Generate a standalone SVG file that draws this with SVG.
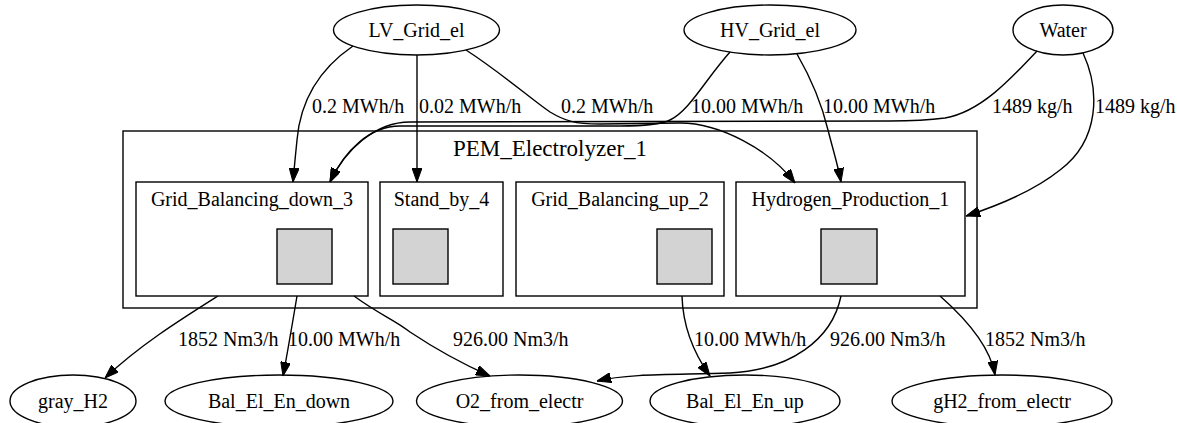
<svg xmlns="http://www.w3.org/2000/svg" width="1177" height="423" viewBox="0 0 1177 423">
<style>
text{font-family:"Liberation Serif","Times New Roman",Times,serif;font-size:20px;fill:#000}
.n{text-anchor:middle}
.sh{fill:#fff;stroke:#000;stroke-width:1.4}
.sq{fill:#d3d3d3;stroke:#000;stroke-width:1.4}
.e{fill:none;stroke:#000;stroke-width:1.4;marker-end:url(#ah)}
.ct{font-size:23px;text-anchor:middle}
</style>
<defs>
<marker id="ah" viewBox="0 0 14 10" refX="14" refY="5" markerUnits="userSpaceOnUse" markerWidth="14" markerHeight="10" orient="auto">
<path d="M0,0 L14,5 L0,10 z" fill="#000" stroke="#000" stroke-width="1"/>
</marker>
</defs>
<rect width="1177" height="423" fill="#fff"/>
<g id="cluster_PEM_Electrolyzer_1">
<rect class="sh" x="123" y="131" width="854" height="177"/>
<text class="ct" x="550" y="156">PEM_Electrolyzer_1</text>
</g>
<g id="node_Grid_Balancing_down_3">
<rect class="sh" x="136" y="182" width="232" height="114"/>
<text class="n" x="252" y="206">Grid_Balancing_down_3</text>
<rect class="sq" x="277" y="229" width="55" height="55"/>
</g>
<g id="node_Stand_by_4">
<rect class="sh" x="380" y="182" width="123" height="114"/>
<text class="n" x="441.5" y="206">Stand_by_4</text>
<rect class="sq" x="393" y="229" width="55" height="55"/>
</g>
<g id="node_Grid_Balancing_up_2">
<rect class="sh" x="516" y="182" width="208" height="114"/>
<text class="n" x="620" y="206">Grid_Balancing_up_2</text>
<rect class="sq" x="657" y="229" width="55" height="55"/>
</g>
<g id="node_Hydrogen_Production_1">
<rect class="sh" x="736" y="182" width="229" height="114"/>
<text class="n" x="850.5" y="206">Hydrogen_Production_1</text>
<rect class="sq" x="821" y="229" width="56" height="55"/>
</g>
<g id="node_LV_Grid_el">
<ellipse class="sh" cx="416.5" cy="30" rx="83" ry="25"/>
<text class="n" x="416.5" y="37">LV_Grid_el</text>
</g>
<g id="node_HV_Grid_el">
<ellipse class="sh" cx="770" cy="30" rx="86" ry="25"/>
<text class="n" x="770" y="37">HV_Grid_el</text>
</g>
<g id="node_Water">
<ellipse class="sh" cx="1063" cy="30" rx="50" ry="25"/>
<text class="n" x="1063" y="37">Water</text>
</g>
<g id="node_gray_H2">
<ellipse class="sh" cx="73" cy="401" rx="63" ry="26"/>
<text class="n" x="73" y="408">gray_H2</text>
</g>
<g id="node_Bal_El_En_down">
<ellipse class="sh" cx="279" cy="401" rx="114" ry="26"/>
<text class="n" x="279" y="408">Bal_El_En_down</text>
</g>
<g id="node_O2_from_electr">
<ellipse class="sh" cx="519.5" cy="401" rx="103" ry="26"/>
<text class="n" x="519.5" y="408">O2_from_electr</text>
</g>
<g id="node_Bal_El_En_up">
<ellipse class="sh" cx="745" cy="401" rx="95" ry="26"/>
<text class="n" x="745" y="408">Bal_El_En_up</text>
</g>
<g id="node_gH2_from_electr">
<ellipse class="sh" cx="1002" cy="401" rx="110" ry="26"/>
<text class="n" x="1002" y="408">gH2_from_electr</text>
</g>
<g id="connectors">
<path class="e" d="M353,46 C315,72 300,105 297,140 C295,160 294,170 293,182"/>
<text x="312" y="113">0.2 MWh/h</text>
<path class="e" d="M417,55 L417,182"/>
<text x="419" y="113">0.02 MWh/h</text>
<path class="e" d="M466,50 C500,72 530,98 550,112 C565,121 575,124 600,124 L680,123 C720,123 770,150 795,183"/>
<text x="561" y="113">0.2 MWh/h</text>
<path class="e" d="M730,52 C705,80 690,110 670,120 C660,125 640,126 620,126 L400,126 C370,126 345,150 330,182"/>
<text x="691" y="113">10.00 MWh/h</text>
<path class="e" d="M797,54 C812,80 822,105 828,130 C833,150 838,165 841,182"/>
<text x="823" y="113">10.00 MWh/h</text>
<path class="e" d="M1037,51 C1010,80 980,112 945,118 C930,120 910,121 890,121 L410,122 C375,122 345,150 330,182"/>
<text x="992" y="113">1489 kg/h</text>
<path class="e" d="M1083,53 C1100,90 1100,140 1060,170 C1035,190 1000,205 966,216"/>
<text x="1095" y="113">1489 kg/h</text>
<path class="e" d="M218,296 C180,320 140,345 105,378"/>
<text x="178" y="346">1852 Nm3/h</text>
<path class="e" d="M297,296 C293,320 288,350 283,376"/>
<text x="288" y="346">10.00 MWh/h</text>
<path class="e" d="M354,296 C380,315 395,320 410,332 C440,352 465,365 490,376"/>
<text x="453" y="346">926.00 Nm3/h</text>
<path class="e" d="M682,296 C683,330 695,355 710,376"/>
<text x="694" y="346">10.00 MWh/h</text>
<path class="e" d="M841,296 C832,340 790,370 730,373 C680,375 630,373 597,381"/>
<text x="830" y="346">926.00 Nm3/h</text>
<path class="e" d="M940,296 C965,318 990,345 995,375"/>
<text x="985" y="346">1852 Nm3/h</text>
</g>
</svg>
